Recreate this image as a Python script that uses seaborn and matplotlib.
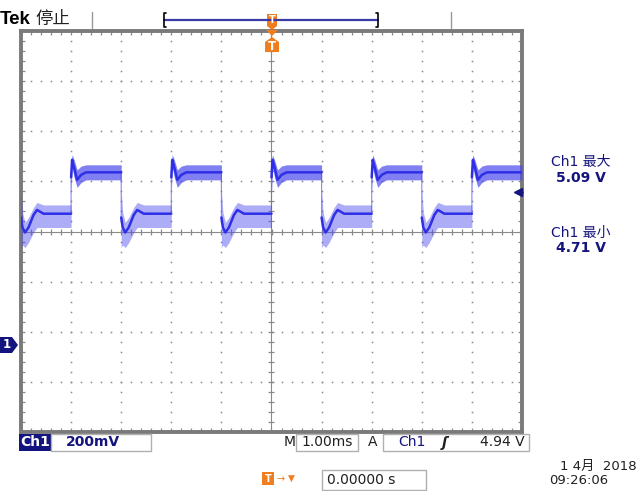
import numpy as np
import pandas as pd
import matplotlib
matplotlib.use("Agg")
import matplotlib.pyplot as plt
import seaborn as sns
from matplotlib.patches import Rectangle, Polygon

# ---------------- data ----------------
rise_edges_ms = [-4, -2, 0, 2, 4]
fall_edges_ms = [-5, -3, -1, 1, 3]

# shape after a rising edge (offset from edge in ms, volts)
high_offsets_ms = [0.00, 0.02, 0.06, 0.12, 0.20, 0.30, 0.60, 1.00]
high_mean_v     = [5.00, 5.07, 5.04, 4.99, 5.01, 5.02, 5.02, 5.02]
high_upper_v    = [5.06, 5.09, 5.07, 5.03, 5.045, 5.05, 5.05, 5.05]
high_lower_v    = [4.94, 5.04, 5.00, 4.96, 4.98, 4.99, 4.99, 4.99]

# shape after a falling edge
low_offsets_ms = [0.00, 0.03, 0.08, 0.15, 0.25, 0.32, 0.45, 0.60, 1.00]
low_mean_v     = [4.84, 4.80, 4.78, 4.80, 4.85, 4.87, 4.855, 4.855, 4.855]
low_upper_v    = [4.95, 4.86, 4.82, 4.84, 4.88, 4.90, 4.89, 4.89, 4.89]
low_lower_v    = [4.72, 4.73, 4.72, 4.74, 4.78, 4.80, 4.80, 4.80, 4.80]

volts_per_div = 0.2
screen_center_v = 4.784
trigger_level_v = 4.94
ch1_max_v = 5.09
ch1_min_v = 4.71

# ---------------- build trace table ----------------
segments = [(e, "high") for e in rise_edges_ms] + [(e, "low") for e in fall_edges_ms]
segments.sort()
rows = []
for seg_id, (edge, kind) in enumerate(segments):
    if kind == "high":
        offs, m, u, l = high_offsets_ms, high_mean_v, high_upper_v, high_lower_v
    else:
        offs, m, u, l = low_offsets_ms, low_mean_v, low_upper_v, low_lower_v
    for o, mv, uv, lv in zip(offs, m, u, l):
        rows.append({"t": edge + o, "mean": mv, "upper": uv, "lower": lv,
                     "seg": seg_id, "kind": kind})
df = pd.DataFrame(rows)

# ---------------- figure ----------------
sns.set_theme(style="white")
plt.rcParams["font.family"] = ["DejaVu Sans", "Noto Sans CJK SC"]

W, H = 639, 491
fig = plt.figure(figsize=(W / 100, H / 100), dpi=100)
fig.patch.set_facecolor("white")

def fx(x):
    return x / W

def fy(y):
    return 1 - y / H

ax = fig.add_axes([fx(21), fy(432), 501 / W, 401 / H])
ax.set_facecolor("white")
ax.set_xlim(-5, 5)
ax.set_ylim(screen_center_v - 4 * volts_per_div, screen_center_v + 4 * volts_per_div)

grid_col = "#8a8a8a"
# dotted graticule
xs_major = np.arange(-5, 5.01, 1.0)
ys_major = screen_center_v + np.arange(-4, 4.01, 1) * volts_per_div
xs_minor = np.arange(-5, 5.001, 0.2)
ys_minor = screen_center_v + np.arange(-4, 4.001, 0.2) * volts_per_div
for xv in xs_major[1:-1]:
    if abs(xv) < 1e-9:
        continue
    ax.plot([xv] * len(ys_minor), ys_minor, ls="none", marker="s", ms=1.1,
            color=grid_col, mew=0)
for yv in ys_major[1:-1]:
    if abs(yv - screen_center_v) < 1e-9:
        continue
    ax.plot(xs_minor, [yv] * len(xs_minor), ls="none", marker="s", ms=1.1,
            color=grid_col, mew=0)
# centre crosshair with ticks
ax.axhline(screen_center_v, color=grid_col, lw=0.8, zorder=1)
ax.axvline(0, color=grid_col, lw=0.8, zorder=1)
ax.plot(xs_minor, [screen_center_v] * len(xs_minor), ls="none", marker="|",
        ms=5, mew=0.9, color=grid_col, zorder=1)
ax.plot([0] * len(ys_minor), ys_minor, ls="none", marker="_",
        ms=5, mew=0.9, color=grid_col, zorder=1)

# border ticks
ax.set_xticks(xs_major)
ax.set_yticks(ys_major)
ax.set_xticks(xs_minor, minor=True)
ax.set_yticks(ys_minor, minor=True)
ax.tick_params(which="both", direction="in", top=True, right=True, bottom=True,
               left=True, labelbottom=False, labelleft=False, color=grid_col,
               length=3, width=0.9)
for sp in ax.spines.values():
    sp.set_color("#7a7a7a")
    sp.set_linewidth(2.8)

# waveform: thin full trace (edges), noise envelope, dense core per segment
wave_col = "#2f2fe8"
sns.lineplot(data=df, x="t", y="mean", sort=False, estimator=None, ax=ax,
             color="#6a6af0", lw=0.8, zorder=3, alpha=0.8)
for seg_id, g in df.groupby("seg"):
    dense = g["kind"].iloc[0] == "high"
    ax.fill_between(g["t"], g["lower"], g["upper"], color="#4a4aee",
                    alpha=0.7 if dense else 0.45, lw=0, zorder=3)
sns.lineplot(data=df, x="t", y="mean", units="seg", sort=False, estimator=None,
             ax=ax, color=wave_col, lw=1.8, zorder=4)
ax.set_xlabel("")
ax.set_ylabel("")

navy = "#14147e"
# trigger level arrow (right side)
ax.plot([4.93], [trigger_level_v], marker="<", ms=6, color=navy, clip_on=False, zorder=5)
ax.plot([4.93, 5.0], [trigger_level_v] * 2, color=navy, lw=1.8, clip_on=False, zorder=5)

# ---------------- screen annotations ----------------
fig.text(fx(0), fy(19), "Tek", fontsize=13.5, fontweight="bold", color="black",
         ha="left", va="center", family=["Liberation Sans", "DejaVu Sans"])
fig.text(fx(35), fy(19), "停止", fontsize=12.5, color="#222222", ha="left",
         va="center", family=["Noto Sans CJK SC", "DejaVu Sans"])

line_kw = dict(transform=fig.transFigure, clip_on=False)
fig.add_artist(plt.Line2D([fx(92), fx(92)], [fy(12), fy(28)], color="#999999", lw=1, **line_kw))
fig.add_artist(plt.Line2D([fx(451), fx(451)], [fy(12), fy(28)], color="#999999", lw=1, **line_kw))
# record bar
fig.add_artist(plt.Line2D([fx(164), fx(378)], [fy(20.5), fy(20.5)], color="#3c3ca8", lw=1.6, **line_kw))
fig.add_artist(plt.Line2D([fx(166), fx(164), fx(164), fx(166)], [fy(27), fy(27), fy(13), fy(13)], color="black", lw=1.2, **line_kw))
fig.add_artist(plt.Line2D([fx(376), fx(378), fx(378), fx(376)], [fy(27), fy(27), fy(13), fy(13)], color="black", lw=1.2, **line_kw))

orange = "#f07d1e"
# small T marker on record bar
fig.add_artist(Polygon([(fx(267), fy(14)), (fx(277), fy(14)), (fx(277), fy(26)),
                        (fx(272), fy(30)), (fx(267), fy(26))], closed=True,
                       facecolor=orange, edgecolor="none", transform=fig.transFigure))
fig.text(fx(272), fy(20), "T", fontsize=7, color="white", fontweight="bold",
         ha="center", va="center")
# triangle on top border
fig.add_artist(Polygon([(fx(266), fy(30)), (fx(278), fy(30)), (fx(272), fy(36))],
                       closed=True, facecolor=orange, edgecolor="none",
                       transform=fig.transFigure, zorder=10))
# T box below the border
fig.add_artist(Polygon([(fx(265), fy(42)), (fx(272), fy(37)), (fx(279), fy(42)),
                        (fx(279), fy(52)), (fx(265), fy(52))], closed=True,
                       facecolor=orange, edgecolor="none", transform=fig.transFigure,
                       zorder=10))
fig.text(fx(272), fy(46.5), "T", fontsize=8.5, color="white", fontweight="bold",
         ha="center", va="center", zorder=11)

# channel 1 ground marker
fig.add_artist(Polygon([(fx(0), fy(337)), (fx(12), fy(337)), (fx(18), fy(345)),
                        (fx(12), fy(353)), (fx(0), fy(353))], closed=True,
                       facecolor=navy, edgecolor="none", transform=fig.transFigure,
                       zorder=10))
fig.text(fx(7), fy(345), "1", fontsize=8.5, color="white", fontweight="bold",
         ha="center", va="center", zorder=11)

# measurements
meas_kw = dict(fontsize=10, color=navy, ha="center", va="center",
               family=["DejaVu Sans", "Noto Sans CJK SC"])
fig.text(fx(581), fy(162), "Ch1 最大", **meas_kw)
fig.text(fx(581), fy(178), f"{ch1_max_v:.2f} V", fontweight="bold", **meas_kw)
fig.text(fx(581), fy(233), "Ch1 最小", **meas_kw)
fig.text(fx(581), fy(248), f"{ch1_min_v:.2f} V", fontweight="bold", **meas_kw)

# bottom status row
fig.add_artist(Rectangle((fx(19), fy(451)), 32 / W, 17 / H, facecolor=navy,
                         edgecolor="none", transform=fig.transFigure))
fig.text(fx(35), fy(442.5), "Ch1", fontsize=10, color="white", fontweight="bold",
         ha="center", va="center")
box_kw = dict(facecolor="none", edgecolor="#b0b0b0", lw=1, transform=fig.transFigure)
fig.add_artist(Rectangle((fx(51), fy(451)), 100 / W, 17 / H, **box_kw))
fig.text(fx(66), fy(442.5), f"{int(volts_per_div * 1000)}mV", fontsize=10, color=navy,
         fontweight="bold", ha="left", va="center")
fig.text(fx(290), fy(442.5), "M", fontsize=10, color="#202020", ha="center", va="center")
fig.add_artist(Rectangle((fx(296), fy(451)), 62 / W, 17 / H, **box_kw))
fig.text(fx(327), fy(442.5), "1.00ms", fontsize=10, color="#202020", ha="center", va="center")
fig.text(fx(373), fy(442.5), "A", fontsize=10, color="#202020", ha="center", va="center")
fig.add_artist(Rectangle((fx(383), fy(451)), 146 / W, 17 / H, **box_kw))
fig.text(fx(412), fy(442.5), "Ch1", fontsize=10, color=navy, ha="center", va="center")
fig.text(fx(445), fy(442.5), "ʃ", fontsize=10, color="#202020", ha="center",
         va="center", fontstyle="italic", fontweight="bold")
fig.text(fx(525), fy(442.5), f"{trigger_level_v:.2f} V", fontsize=10, color="#202020",
         ha="right", va="center")

# trigger position row
fig.add_artist(Rectangle((fx(262), fy(485)), 12 / W, 13 / H, facecolor=orange,
                         edgecolor="none", transform=fig.transFigure))
fig.text(fx(268), fy(478.5), "T", fontsize=7, color="white", fontweight="bold",
         ha="center", va="center")
fig.text(fx(281), fy(479), "→", fontsize=7, color=orange, ha="center", va="center")
fig.text(fx(291), fy(478), "▼", fontsize=6.5, color=orange, ha="center", va="center")
fig.add_artist(Rectangle((fx(322), fy(490)), 104 / W, 20 / H, **box_kw))
fig.text(fx(327), fy(480), "0.00000 s", fontsize=10, color="#202020", ha="left",
         va="center")

# date/time
fig.text(fx(637), fy(466), "1 4月  2018", fontsize=9.5, color="#202020", ha="right",
         va="center", family=["DejaVu Sans", "Noto Sans CJK SC"])
fig.text(fx(608), fy(481), "09:26:06", fontsize=9.5, color="#202020", ha="right",
         va="center")

fig.savefig("out.png", dpi=100, facecolor="white")
